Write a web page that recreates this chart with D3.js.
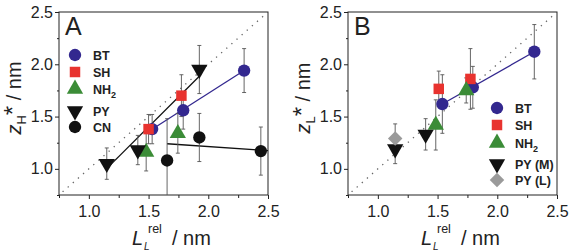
<!DOCTYPE html>
<html lang="en">
<head>
<meta charset="utf-8">
<title>z* vs L rel</title>
<script src="https://d3js.org/d3.v7.min.js"></script>
<style>
  body { margin: 0; background: #fff; }
  svg { font-family: "Liberation Sans", Arial, sans-serif; }
  .axis path, .axis line { stroke: #222; }
  .axis text { font-size: 16px; fill: #222; }
</style>
</head>
<body>
<svg width="569" height="250"></svg>
<script>
// ---- data ----
const majorTicks = [1.0, 1.5, 2.0, 2.5];
const minorTicks = [0.75, 1.25, 1.75, 2.25];

// panel A : zH*
const a_BT_x = [1.53, 1.79, 2.30], a_BT_y = [1.38, 1.56, 1.94], a_BT_e = [0.14, 0.18, 0.21];
const a_SH_x = [1.50, 1.775],      a_SH_y = [1.38, 1.70],       a_SH_e = [0.14, 0.20];
const a_NH_x = [1.48, 1.745],      a_NH_y = [1.16, 1.34],       a_NH_e = [0.18, 0.19];
const a_PY_x = [1.15, 1.41, 1.925], a_PY_y = [1.05, 1.18, 1.95], a_PY_e = [0.15, 0.14, 0.23];
const a_CN_x = [1.655, 1.925, 2.44], a_CN_y = [1.08, 1.30, 1.17], a_CN_e = [0.40, 0.23, 0.23];
const a_fitBT = [[1.49, 1.35], [2.30, 1.94]];
const a_fitPY = [[1.147, 1.0], [1.925, 1.885]];
const a_fitCN = [[1.655, 1.24], [2.5, 1.175]];

// panel B : zL*
const b_BT_x = [1.54, 1.795, 2.31], b_BT_y = [1.62, 1.78, 2.12], b_BT_e = [0.28, 0.20, 0.26];
const b_SH_x = [1.51, 1.775],       b_SH_y = [1.765, 1.86],      b_SH_e = [0.17, 0.29];
const b_NH_x = [1.485, 1.74],       b_NH_y = [1.42, 1.75],       b_NH_e = [0.24, 0.12];
const b_PYM_x = [1.145, 1.40],      b_PYM_y = [1.19, 1.33],      b_PYM_e = [0.14, 0.15];
const b_PYL_x = [1.145],            b_PYL_y = [1.29],            b_PYL_e = [0.14];
const b_fitBT = [[1.54, 1.62], [2.31, 2.12]];

const svg = d3.select("svg");
const navy = "#33288f", red = "#e8332f", green = "#3b8c37", grey = "#9a9a9a";

function pts(xs, ys, es) { return xs.map((x, i) => ({x: x, y: ys[i], e: es[i]})); }

function symbolFor(kind) {
  if (kind == "circle") return d3.symbol().type(d3.symbolCircle).size(120);
  if (kind == "square") return d3.symbol().type(d3.symbolSquare).size(110);
  if (kind == "diamond") return d3.symbol().type(d3.symbolSquare).size(105);
  return d3.symbol().type(d3.symbolTriangle).size(115);
}
function rot(kind) {
  if (kind == "down") return " rotate(180)";
  if (kind == "diamond") return " rotate(45)";
  return "";
}

function drawPanel(p) {
  const x = d3.scaleLinear().domain([0.75, 2.5]).range([p.left, p.right]);
  const y = d3.scaleLinear().domain([0.75, 2.5]).range([195, 12]);
  const g = svg.append("g");

  // frame
  g.append("rect").attr("x", p.left).attr("y", 12)
    .attr("width", p.right - p.left).attr("height", 183)
    .attr("fill", "none").attr("stroke", "#222");

  // axes
  g.append("g").attr("class", "axis").attr("transform", "translate(0,195)")
    .call(d3.axisBottom(x).tickValues(majorTicks).tickSize(4).tickPadding(7).tickFormat(d3.format(".1f")));
  g.append("g").attr("class", "axis").attr("transform", "translate(0,195)")
    .call(d3.axisBottom(x).tickValues(minorTicks).tickSize(3).tickFormat(""));
  g.append("g").attr("class", "axis").attr("transform", "translate(" + p.left + ",0)")
    .call(d3.axisLeft(y).tickValues(majorTicks).tickSize(4).tickPadding(2).tickFormat(d3.format(".1f")));
  g.append("g").attr("class", "axis").attr("transform", "translate(" + p.left + ",0)")
    .call(d3.axisLeft(y).tickValues(minorTicks).tickSize(2).tickFormat(""));
  g.selectAll(".axis .domain").remove();

  // y = x guide
  g.append("line")
    .attr("x1", x(0.78)).attr("y1", y(0.78)).attr("x2", x(2.48)).attr("y2", y(2.48))
    .attr("stroke", "#666").attr("stroke-width", 1.3).attr("stroke-dasharray", "1.3,5.5");

  // fit lines
  p.fits.forEach(f => {
    g.append("path").datum(f.d)
      .attr("d", d3.line().x(d => x(d[0])).y(d => y(d[1])))
      .attr("stroke", f.color).attr("stroke-width", 1.3).attr("fill", "none");
  });

  // error bars (clipped to plot)
  p.series.forEach(s => {
    const eb = g.append("g").attr("stroke", "#555").attr("stroke-width", 0.9);
    s.data.forEach(d => {
      const lo = Math.max(d.y - d.e, 0.75), hi = d.y + d.e;
      eb.append("line").attr("x1", x(d.x)).attr("x2", x(d.x)).attr("y1", y(lo)).attr("y2", y(hi));
      eb.append("line").attr("x1", x(d.x) - 2).attr("x2", x(d.x) + 2).attr("y1", y(hi)).attr("y2", y(hi));
      if (d.y - d.e > 0.75)
        eb.append("line").attr("x1", x(d.x) - 2).attr("x2", x(d.x) + 2).attr("y1", y(lo)).attr("y2", y(lo));
    });
  });

  // markers
  p.series.forEach(s => {
    g.selectAll(null).data(s.data).enter().append("path")
      .attr("d", symbolFor(s.shape))
      .attr("transform", d => "translate(" + x(d.x) + "," + y(d.y) + ")" + rot(s.shape))
      .attr("fill", s.color);
  });

  // legend
  p.series.forEach((s, i) => {
    const ly = p.legY[i];
    g.append("path").attr("d", symbolFor(s.shape))
      .attr("transform", "translate(" + p.legX + "," + ly + ")" + rot(s.shape))
      .attr("fill", s.color);
    const t = g.append("text").attr("x", p.legX + 18).attr("y", ly + 4.5)
      .attr("font-size", 12.5).attr("font-weight", "bold").attr("fill", "#222");
    if (s.name == "NH2") {
      t.append("tspan").text("NH");
      t.append("tspan").attr("font-size", 9).attr("dy", 4).text("2");
    } else t.text(s.name);
  });

  // panel letter
  g.append("text").attr("x", p.left + 6).attr("y", 35).attr("font-size", 25).attr("fill", "#222").text(p.letter);

  // x title
  const xt = p.left + 73;
  g.append("text").attr("x", xt).attr("y", 245).attr("font-size", 20).attr("font-style", "italic").attr("fill", "#222").text("L");
  g.append("text").attr("x", xt + 16).attr("y", 233).attr("font-size", 12.5).attr("fill", "#222").text("rel");
  g.append("text").attr("x", xt + 12).attr("y", 249.5).attr("font-size", 10).attr("font-style", "italic").attr("fill", "#222").text("L");
  g.append("text").attr("x", xt + 40).attr("y", 245).attr("font-size", 20).attr("fill", "#222").text("/ nm");

  // y title
  const yt = g.append("text").attr("transform", "translate(" + (p.left - 38) + ",98) rotate(-90)")
    .attr("text-anchor", "middle").attr("font-size", 20).attr("fill", "#222");
  yt.append("tspan").attr("font-style", "italic").text("z");
  yt.append("tspan").attr("font-size", 13).attr("dy", 5).text(p.sub);
  yt.append("tspan").attr("dy", -5).attr("font-size", 24).text("*");
  yt.append("tspan").text(" / nm");
}

drawPanel({
  letter: "A", left: 59, right: 268, sub: "H",
  legX: 75, legY: [55, 72, 89, 111, 127],
  fits: [{d: a_fitCN, color: "#111"}, {d: a_fitPY, color: "#111"}, {d: a_fitBT, color: navy}],
  series: [
    {name: "BT", shape: "circle", color: navy, data: pts(a_BT_x, a_BT_y, a_BT_e)},
    {name: "SH", shape: "square", color: red, data: pts(a_SH_x, a_SH_y, a_SH_e)},
    {name: "NH2", shape: "up", color: green, data: pts(a_NH_x, a_NH_y, a_NH_e)},
    {name: "PY", shape: "down", color: "#111", data: pts(a_PY_x, a_PY_y, a_PY_e)},
    {name: "CN", shape: "circle", color: "#111", data: pts(a_CN_x, a_CN_y, a_CN_e)}
  ]
});

drawPanel({
  letter: "B", left: 348, right: 557, sub: "L",
  legX: 497, legY: [108, 125, 143, 164, 180],
  fits: [{d: b_fitBT, color: navy}],
  series: [
    {name: "BT", shape: "circle", color: navy, data: pts(b_BT_x, b_BT_y, b_BT_e)},
    {name: "SH", shape: "square", color: red, data: pts(b_SH_x, b_SH_y, b_SH_e)},
    {name: "NH2", shape: "up", color: green, data: pts(b_NH_x, b_NH_y, b_NH_e)},
    {name: "PY (M)", shape: "down", color: "#111", data: pts(b_PYM_x, b_PYM_y, b_PYM_e)},
    {name: "PY (L)", shape: "diamond", color: grey, data: pts(b_PYL_x, b_PYL_y, b_PYL_e)}
  ]
});
</script>
</body>
</html>
